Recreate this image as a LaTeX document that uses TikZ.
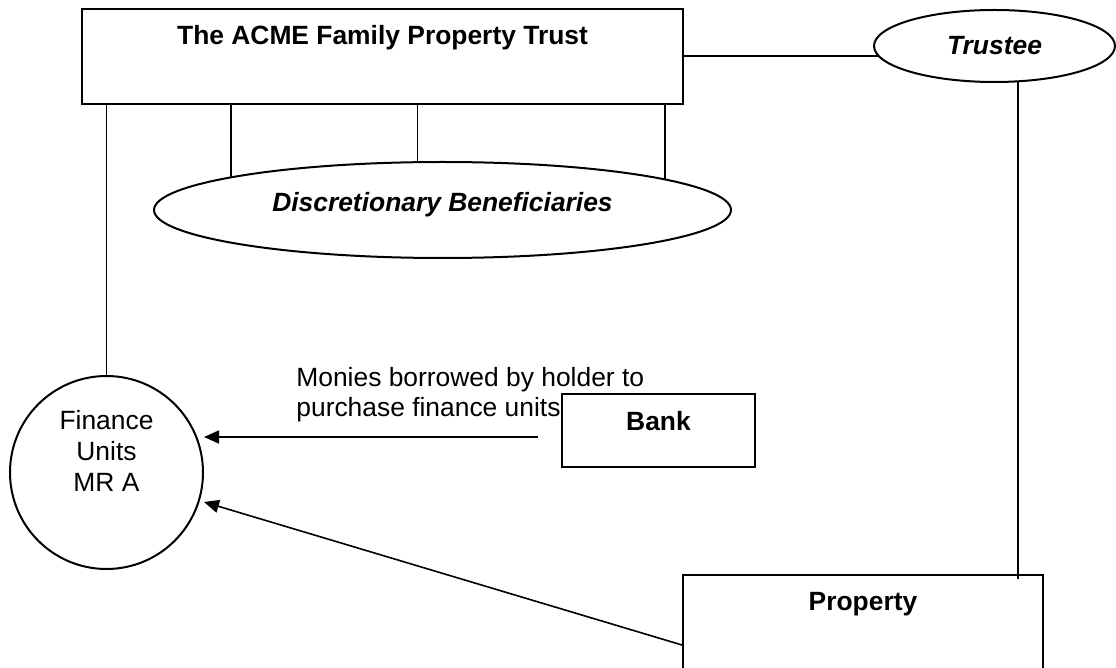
\documentclass[tikz,border=0pt]{standalone}
\usepackage{fontspec}
\setmainfont{Liberation Sans}
\usetikzlibrary{shapes.geometric,arrows.meta}
\begin{document}
\begin{tikzpicture}[x=0.5pt, y=-0.5pt, font=\fontsize{13.2}{15}\selectfont,
    box/.style={draw, line width=1pt, inner sep=0pt, font=\fontsize{13.2}{15}\selectfont\bfseries},
    oval/.style={draw, ellipse, line width=1pt, inner sep=0pt, font=\fontsize{13.2}{15}\selectfont\bfseries\itshape},
    link/.style={line width=0.8pt},
    >={Triangle[length=7.5pt,width=6.5pt]}]
  \useasboundingbox (0,0) rectangle (1116,668);
  \node [box, minimum width=300.5pt, text height=18pt, text depth=29.5pt] (trust) at (382.5,56.5) {The ACME Family Property Trust};
  \node [oval, minimum width=120.5pt, minimum height=36pt] (trustee) at (994.5,46) {Trustee};
  \node [oval, minimum width=288.5pt, minimum height=48pt, text height=9pt, text depth=7pt] (ben) at (442.5,210) {Discretionary Beneficiaries};
  \node [draw, circle, line width=1pt, minimum size=96.5pt] (fin) at (106.5,472.5) {};
  \node [align=center, anchor=north, inner sep=0pt, font=\fontsize{13.2}{15.5}\selectfont] (finlbl) at (106.5,410) {Finance\\Units\\MR A};
  \node [box, minimum width=96.5pt, text height=18.5pt, text depth=18pt] (bank) at (658.5,430.5) {Bank};
  \node [box, minimum width=180pt, text height=18pt, text depth=52pt] (prop) at (863,645) {Property};
  \node [align=left, anchor=north west, inner sep=0pt] (note) at (296,367) {Monies borrowed by holder to\\purchase finance units};
  \coordinate (loan) at (538,437);

  \draw [link] (trustee.185 -| trust.east) -- (trustee.185);
  \draw [link] (trustee.303) -- (trustee.303 |- prop.north) -- ++(0,5);
  \foreach \a in {171.6,117.1,8.4}
    \draw [link] (ben.\a |- trust.south) -- (ben.\a);
  \draw [link] (fin.north |- trust.south) -- (fin.north);
  \draw [link, ->] (loan) -- ([shift={(0,-35.5)}]fin.east);
  \draw [link, ->] (prop.west) -- ([shift={(0,29.5)}]fin.east);
\end{tikzpicture}
\end{document}
